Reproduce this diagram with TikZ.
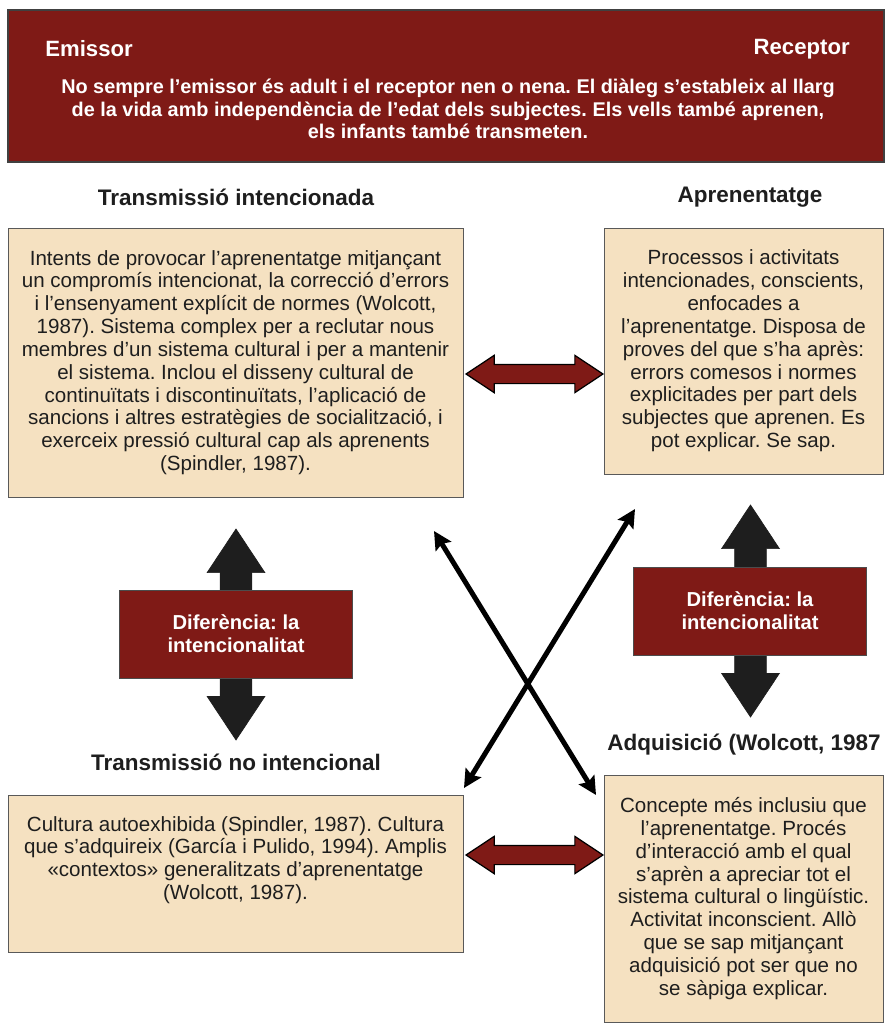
\documentclass[tikz,border=0pt]{standalone}
\usepackage{fontspec}
\setmainfont{Liberation Sans}
\usetikzlibrary{arrows.meta, positioning, shapes.arrows, calc}
\definecolor{darkred}{RGB}{127,26,22}
\definecolor{paper}{RGB}{245,225,193}
\definecolor{ink}{RGB}{30,30,30}
\frenchspacing

\begin{document}
\begin{tikzpicture}[
    x=0.02cm, y=-0.02cm,
    box/.style={draw=black!65, fill=paper, align=center, text=ink, inner sep=0pt,
                font=\fontsize{11.7}{13}\selectfont},
    txt/.style={align=center, text=ink, inner sep=0pt, font=\fontsize{11.7}{13}\selectfont},
    head/.style={text=ink, inner sep=0pt, font=\bfseries\fontsize{12.8}{15}\selectfont},
    redbox/.style={draw=black!70, fill=darkred, text=white, align=center,
                   minimum width=4.66cm, minimum height=1.76cm,
                   font=\bfseries\fontsize{11.5}{13}\selectfont},
    redarr/.style={double arrow, draw=black, fill=darkred, line width=0.7pt,
                   inner xsep=0pt, inner ysep=0.18cm, double arrow head extend=0.18cm,
                   double arrow tip angle=67, minimum height=2.74cm},
    blackarr/.style={double arrow, draw=ink, fill=ink, rotate=90,
                     inner xsep=0pt, inner ysep=0.31cm, double arrow head extend=0.26cm,
                     double arrow tip angle=67},
    link/.style={line width=0.1cm, draw=black,
                 {Stealth[length=0.36cm,width=0.36cm,inset=0.06cm]}-{Stealth[length=0.36cm,width=0.36cm,inset=0.06cm]}},
]
\useasboundingbox (0,0) rectangle (885,1024);

% banner
\node[draw=black!75, line width=0.8pt, fill=darkred, minimum width=17.52cm, minimum height=3.04cm] (hdr) at (446,86) {};
\node[anchor=west, text=white, inner sep=0pt, font=\bfseries\fontsize{12.6}{15}\selectfont] (emissor) at (45,49) {Emissor};
\node[anchor=east, text=white, inner sep=0pt, font=\bfseries\fontsize{12.6}{15}\selectfont] (receptor) at (850,49) {Receptor};
\node[align=center, text=white, inner sep=0pt, font=\bfseries\fontsize{11.3}{12.9}\selectfont] (dialeg) at (448,109)
  {No sempre l’emissor és adult i el receptor nen o nena. El diàleg s’estableix al llarg\\
   de la vida amb independència de l’edat dels subjectes. Els vells també aprenen,\\
   els infants també transmeten.};

% headings
\node[head] (h1) at (236,197) {Transmissió intencionada};
\node[head] (h2) at (750,197) {Aprenentatge};
\node[head] (h3) at (236,762) {Transmissió no intencional};
\node[head, anchor=west] (h4) at (607,745) {Adquisició (Wolcott, 1987};

% boxes
\node[box, minimum width=9.1cm, minimum height=5.38cm] (tl) at (235.5,362.5)
  {Intents de provocar l’aprenentatge mitjançant\\
   un compromís intencionat, la correcció d’errors\\
   i l’ensenyament explícit de normes (Wolcott,\\
   1987). Sistema complex per a reclutar nous\\
   membres d’un sistema cultural i per a mantenir\\
   el sistema. Inclou el disseny cultural de\\
   continuïtats i discontinuïtats, l’aplicació de\\
   sancions i altres estratègies de socialització, i\\
   exerceix pressió cultural cap als aprenents\\
   (Spindler, 1987).};
\node[box, minimum width=5.58cm, minimum height=4.92cm] (tr) at (743.5,351)
  {Processos i activitats\\
   intencionades, conscients,\\
   enfocades a\\
   l’aprenentatge. Disposa de\\
   proves del que s’ha après:\\
   errors comesos i normes\\
   explicitades per part dels\\
   subjectes que aprenen. Es\\
   pot explicar. Se sap.};
\node[box, minimum width=9.1cm, minimum height=3.14cm] (bl) at (235.5,873.5) {};
\node[txt] (bltext) at (235.5,860)
  {Cultura autoexhibida (Spindler, 1987). Cultura\\
   que s’adquireix (García i Pulido, 1994). Amplis\\
   «contextos» generalitzats d’aprenentatge\\
   (Wolcott, 1987).};
\node[box, minimum width=5.58cm, minimum height=4.94cm] (br) at (743.5,898.5)
  {Concepte més inclusiu que\\
   l’aprenentatge. Procés\\
   d’interacció amb el qual\\
   s’aprèn a apreciar tot el\\
   sistema cultural o lingüístic.\\
   Activitat inconscient. Allò\\
   que se sap mitjançant\\
   adquisició pot ser que no\\
   se sàpiga explicar.};

% fat arrows
\node[redarr] (arrtop) at (534.5,374) {};
\node[redarr] (arrbot) at (534.5,855) {};
\node[blackarr, minimum height=4.22cm] (arrl) at (236,634.5) {};
\node[blackarr, minimum height=4.24cm] (arrr) at (750.5,611) {};

\node[redbox] (diffl) at (236,634) {Diferència: la\\intencionalitat};
\node[redbox] (diffr) at (750,611) {Diferència: la\\intencionalitat};

% crossing links
\coordinate (tltip) at (434,531);
\coordinate (brtip) at (596,795);
\coordinate (trtip) at (635,509);
\coordinate (bltip) at (464,788);
\draw[link] (tltip) -- (brtip);
\draw[link] (trtip) -- (bltip);
\end{tikzpicture}
\end{document}
